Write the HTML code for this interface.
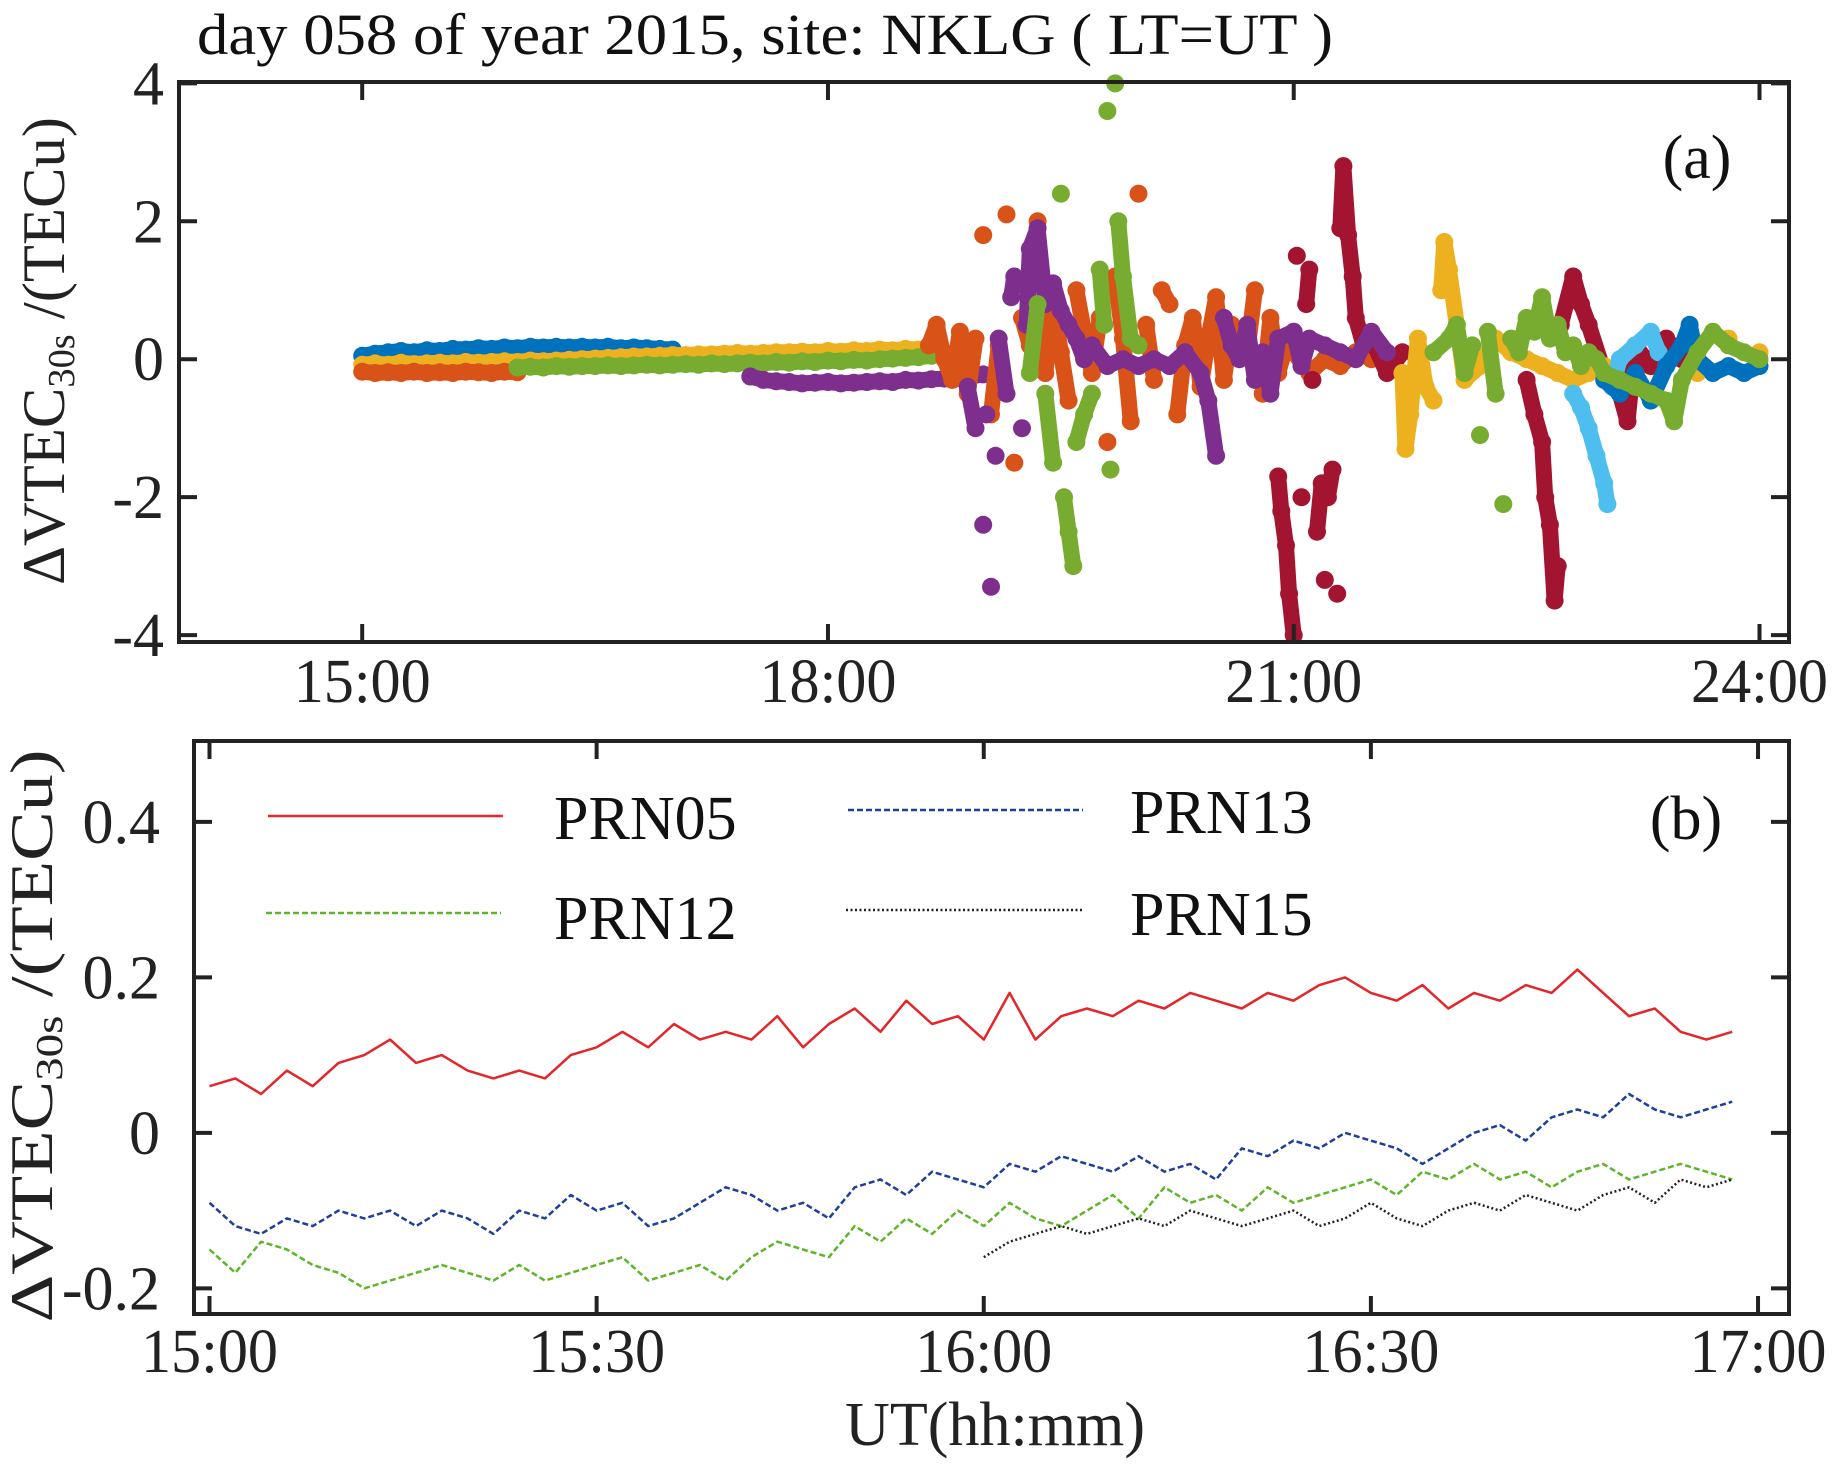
<!DOCTYPE html>
<html><head><meta charset="utf-8"><style>
html,body{margin:0;padding:0;background:#fff;}
svg{display:block;font-family:"Liberation Serif",serif;}
</style></head><body>
<svg id="fig" width="1836" height="1468" viewBox="0 0 1836 1468">
<text x="197" y="54" font-size="58" textLength="1136" lengthAdjust="spacingAndGlyphs" fill="#111">day 058 of year 2015, site: NKLG ( LT=UT )</text>
<g id="pa"></g>
<g id="pb"></g>
</svg>
<script>
// ---------- Panel (a) data ----------
const aXTicks=[15,18,21,24];
const aXTickLabels=["15:00","18:00","21:00","24:00"];
const aYTicks=[-4,-2,0,2,4];
const aYTickLabels=["-4","-2","0","2","4"];
const bandStep=1/12;
const blueBandStart=15.0;
const blueBandV=[0.05,0.08,0.1,0.12,0.1,0.13,0.12,0.15,0.14,0.16,0.15,0.17,0.16,0.18,0.17,0.18,0.17,0.18,0.17,0.18,0.16,0.17,0.16,0.15,0.14];
const orangeBandStart=15.0;
const orangeBandV=[-0.18,-0.2,-0.19,-0.2,-0.18,-0.2,-0.19,-0.2,-0.18,-0.19,-0.2,-0.18,-0.19];
const yellowBandStart=15.0;
const yellowBandV=[-0.08,-0.06,-0.08,-0.05,-0.07,-0.06,-0.05,-0.06,-0.04,-0.05,-0.04,-0.03,-0.04,-0.02,-0.03,-0.02,-0.01,0.0,0.01,0.02,0.03,0.04,0.04,0.05,0.06,0.06,0.07,0.07,0.08,0.09,0.08,0.09,0.1,0.1,0.11,0.1,0.12,0.11,0.13,0.12,0.14,0.13,0.15,0.14,0.15];
const greenBandStart=16.0;
const greenBandV=[-0.12,-0.11,-0.12,-0.1,-0.11,-0.1,-0.1,-0.09,-0.1,-0.09,-0.08,-0.09,-0.08,-0.07,-0.08,-0.06,-0.07,-0.06,-0.05,-0.06,-0.04,-0.05,-0.03,-0.04,-0.02,-0.03,-0.01,-0.02,0.0,0.01,0.02,0.03,0.05];
const purpleBandStart=17.5;
const purpleBandV=[-0.25,-0.3,-0.32,-0.33,-0.35,-0.34,-0.33,-0.35,-0.34,-0.33,-0.32,-0.33,-0.3,-0.31,-0.29,-0.28,-0.27,-0.25,-0.22];
const orangeT=[18.65,18.7,18.75,18.8,18.85,18.9,18.95,19.0,19.05,19.1,19.15,19.2,19.25,19.3,19.35,19.4,19.45,19.5,19.55,19.6,19.65,19.7,19.75,19.8,19.85,19.9,19.95,20.0,20.05,20.1,20.15,20.2,20.25,20.3,20.35,20.4,20.45,20.5,20.55,20.6,20.65,20.7,20.75,20.8,20.85,20.9,20.95,21.0,21.1,21.2,21.3,21.4,21.5];
const orangeV=[0.2,0.5,0.0,-0.3,0.4,-0.5,0.3,1.8,-0.8,0.2,2.1,-1.5,0.6,0.2,2.0,-0.2,0.8,0.1,-0.6,1.0,0.4,-0.2,0.6,-1.2,1.2,0.3,-0.9,2.4,0.5,-0.3,1.0,0.8,-0.8,0.2,0.6,-0.4,0.3,0.9,-0.3,0.5,0.4,0.1,1.0,-0.5,0.6,-0.2,0.2,0.1,-0.2,0.0,-0.1,0.1,0.0];
const greenT=[19.3,19.35,19.4,19.45,19.5,19.52,19.55,19.58,19.6,19.65,19.7,19.75,19.78,19.8,19.82,19.85,19.87,19.9,19.95,20.0,21.9,22.0,22.05,22.1,22.15,22.2,22.25,22.3,22.35,22.4,22.45,22.5,22.55,22.6,22.65,22.7,22.75,22.8,22.85,22.9,22.95,23.0,23.1,23.2,23.3,23.4,23.45,23.5,23.6,23.7,23.8,23.9,24.0];
const greenV=[-0.2,0.8,-0.5,-1.5,2.4,-2.0,-2.5,-3.0,-1.2,-0.8,-0.5,1.3,0.5,3.6,-1.6,4.0,2.0,1.2,0.3,0.2,0.1,0.3,0.5,-0.2,0.2,-1.1,0.4,-0.5,-2.1,0.3,0.1,0.6,0.4,0.9,0.3,0.5,0.1,0.2,-0.1,0.1,0.0,-0.2,-0.3,-0.4,-0.5,-0.6,-0.9,-0.3,0.1,0.4,0.2,0.1,0.0];
const purpleT=[18.9,18.95,19.0,19.02,19.05,19.08,19.1,19.15,19.18,19.2,19.25,19.28,19.3,19.35,19.4,19.45,19.5,19.55,19.6,19.65,19.7,19.8,19.9,20.0,20.1,20.2,20.3,20.4,20.45,20.5,20.55,20.6,20.65,20.7,20.75,20.8,20.85,20.9,21.0,21.05,21.1,21.2,21.3,21.4,21.5,21.6];
const purpleV=[-0.4,-1.0,-2.4,-0.8,-3.3,-1.4,0.3,-0.5,0.9,1.2,-1.0,0.5,1.6,1.9,0.8,1.1,0.7,0.5,0.3,0.0,0.2,-0.1,0.0,-0.1,0.0,-0.1,0.1,-0.2,-0.6,-1.4,0.6,0.2,0.0,0.5,-0.3,0.1,-0.5,0.3,0.4,-0.1,0.3,0.2,0.1,0.0,0.4,0.1];
const crimsonT=[20.9,20.92,20.95,20.97,21.0,21.02,21.05,21.08,21.1,21.12,21.15,21.18,21.2,21.22,21.25,21.28,21.3,21.32,21.35,21.38,21.4,21.45,21.5,21.6,21.7,22.5,22.55,22.6,22.62,22.65,22.68,22.7,22.72,22.8,22.85,22.9,23.0,23.1,23.15,23.2,23.3,23.4,23.5];
const crimsonV=[-1.7,-2.2,-2.7,-3.4,-4.0,1.5,-2.0,0.8,1.3,-0.3,-2.5,-1.8,-3.2,-2.0,-1.6,-3.4,1.9,2.8,1.8,1.2,0.6,0.2,0.3,-0.2,0.1,-0.3,-0.8,-1.2,-2.0,-2.4,-3.5,-3.0,0.5,1.2,0.8,0.5,-0.2,-0.5,-0.9,0.2,-0.1,0.3,0.0];
const yellowT=[21.7,21.72,21.75,21.8,21.85,21.9,21.95,21.97,22.0,22.05,22.1,22.2,22.3,22.4,22.5,22.6,22.7,22.8,22.9,23.0,23.2,23.4,23.6,23.8,24.0];
const yellowV=[-0.2,-1.3,-0.8,0.3,-0.4,-0.6,1.0,1.7,1.3,0.5,-0.3,-0.1,0.3,0.1,0.0,-0.1,-0.2,-0.3,-0.2,-0.1,-0.3,-0.1,-0.2,0.3,0.1];
const cyanT=[22.8,22.85,22.9,22.95,23.0,23.02,23.05,23.1,23.2,23.3,23.35];
const cyanV=[-0.5,-0.7,-1.0,-1.4,-1.8,-2.1,-0.4,0.0,0.2,0.4,0.1];
const blueT=[23.0,23.1,23.2,23.3,23.4,23.5,23.55,23.6,23.7,23.8,23.9,24.0];
const blueV=[-0.3,-0.5,-0.2,-0.6,-0.1,0.2,0.5,0.0,-0.2,-0.1,-0.2,-0.1];

// ---------- Panel (b) data ----------
const bXTicks=[15,15.5,16,16.5,17];
const bXTickLabels=["15:00","15:30","16:00","16:30","17:00"];
const bYTicks=[-0.2,0,0.2,0.4];
const bYTickLabels=["-0.2","0","0.2","0.4"];
const bStepHours=2/60;
const prn05Start=15.0;
const prn05=[0.06,0.07,0.05,0.08,0.06,0.09,0.10,0.12,0.09,0.10,0.08,0.07,0.08,0.07,0.10,0.11,0.13,0.11,0.14,0.12,0.13,0.12,0.15,0.11,0.14,0.16,0.13,0.17,0.14,0.15,0.12,0.18,0.12,0.15,0.16,0.15,0.17,0.16,0.18,0.17,0.16,0.18,0.17,0.19,0.20,0.18,0.17,0.19,0.16,0.18,0.17,0.19,0.18,0.21,0.18,0.15,0.16,0.13,0.12,0.13];
const prn13Start=15.0;
const prn13=[-0.09,-0.12,-0.13,-0.11,-0.12,-0.10,-0.11,-0.10,-0.12,-0.10,-0.11,-0.13,-0.10,-0.11,-0.08,-0.10,-0.09,-0.12,-0.11,-0.09,-0.07,-0.08,-0.10,-0.09,-0.11,-0.07,-0.06,-0.08,-0.05,-0.06,-0.07,-0.04,-0.05,-0.03,-0.04,-0.05,-0.03,-0.05,-0.04,-0.06,-0.02,-0.03,-0.01,-0.02,0.00,-0.01,-0.02,-0.04,-0.02,0.00,0.01,-0.01,0.02,0.03,0.02,0.05,0.03,0.02,0.03,0.04];
const prn12Start=15.0;
const prn12=[-0.15,-0.18,-0.14,-0.15,-0.17,-0.18,-0.20,-0.19,-0.18,-0.17,-0.18,-0.19,-0.17,-0.19,-0.18,-0.17,-0.16,-0.19,-0.18,-0.17,-0.19,-0.16,-0.14,-0.15,-0.16,-0.12,-0.14,-0.11,-0.13,-0.10,-0.12,-0.09,-0.11,-0.12,-0.10,-0.08,-0.11,-0.07,-0.09,-0.08,-0.10,-0.07,-0.09,-0.08,-0.07,-0.06,-0.08,-0.05,-0.06,-0.04,-0.06,-0.05,-0.07,-0.05,-0.04,-0.06,-0.05,-0.04,-0.05,-0.06];
const prn15Start=16.0;
const prn15=[-0.16,-0.14,-0.13,-0.12,-0.13,-0.12,-0.11,-0.12,-0.10,-0.11,-0.12,-0.11,-0.10,-0.12,-0.11,-0.09,-0.11,-0.12,-0.10,-0.09,-0.10,-0.08,-0.09,-0.10,-0.08,-0.07,-0.09,-0.06,-0.07,-0.06];

const NS="http://www.w3.org/2000/svg";
function mk(parent,tag,attrs,txt){const e=document.createElementNS(NS,tag);for(const k in attrs)e.setAttribute(k,attrs[k]);if(txt!==undefined)e.textContent=txt;parent.appendChild(e);return e;}

// Panel (a) geometry
const A={l:179,r:1789,t:82,b:642,x0:13.82,x1:24.19,y0:-4.1,y1:4.02};
const ax=v=>A.l+(v-A.x0)/(A.x1-A.x0)*(A.r-A.l);
const ay=v=>A.b-(v-A.y0)/(A.y1-A.y0)*(A.b-A.t);
const pa=document.getElementById('pa');
function dots(T,V,color,name,trail){
  const g=mk(pa,'g',{fill:color});
  
  
  const n=Math.min(T.length,V.length);
  if(trail){
    let d='';
    for(let i=0;i<n;i++){
      const x=ax(T[i]).toFixed(1),y=ay(V[i]).toFixed(1);
      const jump=i>0&&(T[i]-T[i-1]>0.12||Math.abs(V[i]-V[i-1])>1.2);
      d+=(i===0||jump?'M':'L')+x+','+y+' ';
    }
    const p=mk(g,'path',{d:d,fill:'none',stroke:color,'stroke-width':16,'stroke-linecap':'round','stroke-linejoin':'round'});
    
    
  }
  for(let i=0;i<n;i++){const c=mk(g,'circle',{cx:ax(T[i]).toFixed(1),cy:ay(V[i]).toFixed(1),r:9});
    
    }
}
function band(start,V,color,name){const T=V.map((_,i)=>start+i*bandStep);
  dots(T,V,color,name,true);
}
band(blueBandStart,blueBandV,'#0072BD','prn-blue-band');
band(yellowBandStart,yellowBandV,'#EDB120','prn-yellow-band');
band(orangeBandStart,orangeBandV,'#D95319','prn-orange-band');
band(greenBandStart,greenBandV,'#77AC30','prn-green-band');
band(purpleBandStart,purpleBandV,'#7E2F8E','prn-purple-band');
dots(orangeT,orangeV,'#D95319','prn-orange-scatter',true);
dots(crimsonT,crimsonV,'#A2142F','prn-crimson-scatter',true);
dots(purpleT,purpleV,'#7E2F8E','prn-purple-scatter',true);
dots(yellowT,yellowV,'#EDB120','prn-yellow-scatter',true);
dots(cyanT,cyanV,'#4DBEEE','prn-cyan-scatter',true);
dots(blueT,blueV,'#0072BD','prn-blue-scatter',true);
dots(greenT,greenV,'#77AC30','prn-green-scatter',true);

function frame(par,G,X,Y,xt,xl,yt,yl,xlabY,ylabX,pfx){
  const f=mk(par,'rect',{x:G.l,y:G.t,width:G.r-G.l,height:G.b-G.t,fill:'none',stroke:'#222','stroke-width':4});
  
  
  xt.forEach((v,i)=>{const x=X(v);
    mk(par,'line',{x1:x,x2:x,y1:G.b,y2:G.b-18,stroke:'#222','stroke-width':4});
    mk(par,'line',{x1:x,x2:x,y1:G.t,y2:G.t+18,stroke:'#222','stroke-width':4});
    const t=mk(par,'text',{x:x,y:xlabY,'font-size':62,'text-anchor':'middle',fill:'#222',textLength:137,lengthAdjust:'spacingAndGlyphs'},xl[i]);
    
    });
  yt.forEach((v,i)=>{const y=Y(v);
    mk(par,'line',{x1:G.l,x2:G.l+18,y1:y,y2:y,stroke:'#222','stroke-width':4});
    mk(par,'line',{x1:G.r,x2:G.r-18,y1:y,y2:y,stroke:'#222','stroke-width':4});
    const t=mk(par,'text',{x:ylabX,y:y+21,'font-size':62,'text-anchor':'end',fill:'#222'},yl[i]);
    
    });
}
frame(pa,A,ax,ay,aXTicks,aXTickLabels,aYTicks,aYTickLabels,702,164,'panel-a');
const la=mk(pa,'text',{x:1697,y:178,'font-size':62,'text-anchor':'middle',fill:'#111'},'(a)');



function ylab(par,cx,cy,len,name){
  const t=mk(par,'text',{transform:`translate(${cx},${cy}) rotate(-90)`,'text-anchor':'middle','font-size':60,fill:'#222',textLength:len,lengthAdjust:'spacingAndGlyphs'});
  
  
  t.innerHTML='ΔVTEC<tspan font-size="38" dy="10">30s</tspan><tspan dy="-10"> /(TECu)</tspan>';
}
ylab(pa,64,351,468,'panel-a-y-axis-title');

// Panel (b)
const B={l:194,r:1789,t:741,b:1314,x0:14.98,x1:17.04,y0:-0.233,y1:0.504};
const bx=v=>B.l+(v-B.x0)/(B.x1-B.x0)*(B.r-B.l);
const by=v=>B.b-(v-B.y0)/(B.y1-B.y0)*(B.b-B.t);
const pb=document.getElementById('pb');
function series(start,V,color,dash,w,name){
  const d=V.map((v,i)=>(i?'L':'M')+bx(start+i*bStepHours).toFixed(1)+','+by(v).toFixed(1)).join(' ');
  const p=mk(pb,'path',{d:d,fill:'none',stroke:color,'stroke-width':w,'stroke-dasharray':dash,'stroke-linejoin':'round'});
  
  
}
series(prn05Start,prn05,'#e4252a','none',2.5,'prn05-line');
series(prn13Start,prn13,'#1f3f9a','6 3',2.5,'prn13-line');
series(prn12Start,prn12,'#5fb52a','6 3',2.5,'prn12-line');
series(prn15Start,prn15,'#222','2 2.5',2.5,'prn15-line');
frame(pb,B,bx,by,bXTicks,bXTickLabels,bYTicks,bYTickLabels,1372,160,'panel-b');
const lb=mk(pb,'text',{x:1686,y:839,'font-size':62,'text-anchor':'middle',fill:'#111'},'(b)');


ylab(pb,52,1036,573,'panel-b-y-axis-title');
const xt=mk(pb,'text',{x:995,y:1445,'font-size':62,'text-anchor':'middle',fill:'#222',textLength:300,lengthAdjust:'spacingAndGlyphs'},'UT(hh:mm)');



// legend
const legItems=[["PRN05",268,503,816,554,839,'#e4252a','none'],["PRN13",848,1083,810,1130,833,'#1f3f9a','6 3'],["PRN12",266,501,913,554,939,'#5fb52a','6 3'],["PRN15",846,1083,910,1130,935,'#222','2 2.5']];
legItems.forEach(it=>{
  const g=mk(pb,'g',{});
  
  
  mk(g,'line',{x1:it[1],x2:it[2],y1:it[3],y2:it[3],stroke:it[6],'stroke-width':2.5,'stroke-dasharray':it[7]});
  mk(g,'text',{x:it[4],y:it[5],'font-size':62,fill:'#111'},it[0]);
});
</script>
</body></html>
